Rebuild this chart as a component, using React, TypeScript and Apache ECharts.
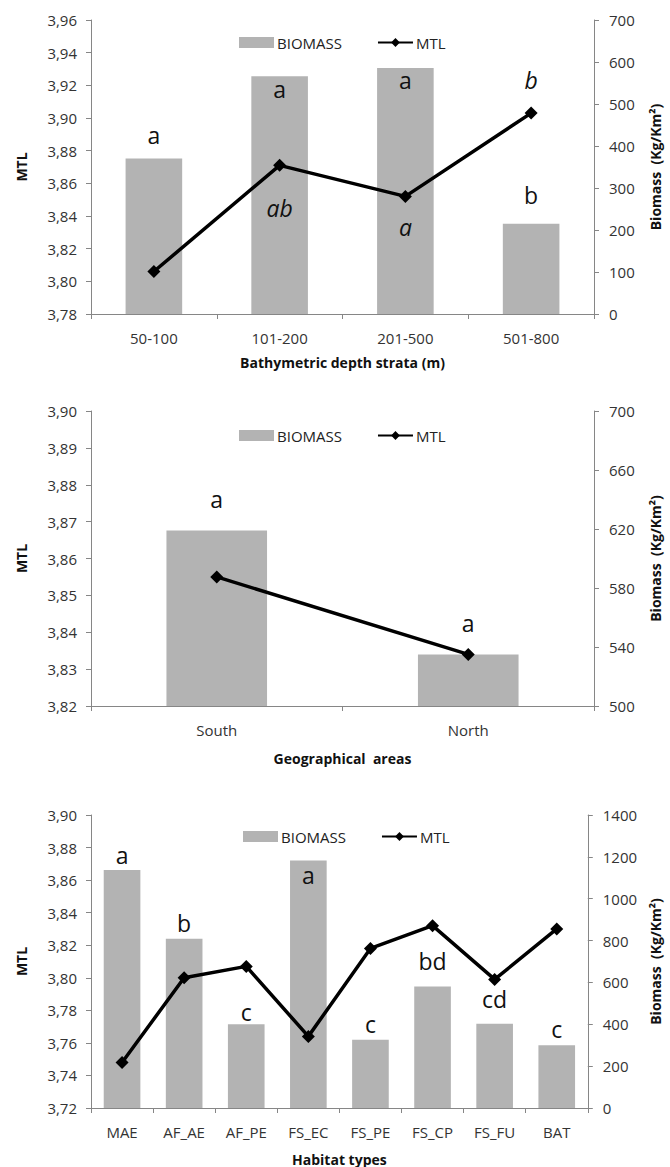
import React, { useEffect, useRef } from "react";
import * as echarts from "echarts";

// ---------- Data ----------
const depthCategories = ["50-100", "101-200", "201-500", "501-800"];
const depthBiomass = [370, 566, 586, 215];
const depthMTL = [3.806, 3.871, 3.852, 3.903];
const depthBiomassLetters = ["a", "a", "a", "b"];
const depthMTLLetters = ["", "ab", "a", "b"];

const areaCategories = ["South", "North"];
const areaBiomass = [619, 535];
const areaMTL = [3.855, 3.834];
const areaBiomassLetters = ["a", "a"];

const habitatCategories = ["MAE", "AF_AE", "AF_PE", "FS_EC", "FS_PE", "FS_CP", "FS_FU", "BAT"];
const habitatBiomass = [1137, 809, 400, 1182, 326, 580, 403, 300];
const habitatMTL = [3.748, 3.8, 3.807, 3.764, 3.818, 3.832, 3.799, 3.83];
const habitatBiomassLetters = ["a", "b", "c", "a", "c", "bd", "cd", "c"];

// axis ranges [min, max, interval]
const depthMTLAxis = [3.78, 3.96, 0.02];
const depthBiomassAxis = [0, 700, 100];
const areaMTLAxis = [3.82, 3.9, 0.01];
const areaBiomassAxis = [500, 700, 40];
const habitatMTLAxis = [3.72, 3.9, 0.02];
const habitatBiomassAxis = [0, 1400, 200];

// ---------- Label placement (styling) ----------
const depthBiomassLabelPos = ["top", "insideTop", "insideTop", "top"];
const depthBiomassLabelDist = [12, 1, 1, 17];
const depthMTLLabelPos = ["bottom", "bottom", "bottom", "top"];
const depthMTLLabelDist = [0, 25, 13, 15];
const areaBiomassLabelPos = ["top", "top"];
const areaBiomassLabelDist = [20, 20];
const habitatBiomassLabelPos = ["top", "top", "top", "insideTop", "top", "top", "top", "top"];
const habitatBiomassLabelDist = [4, 4, 1, 3, 4, 14, 13, 5];

const FONT = "'Open Sans', sans-serif";
const AXIS_COLOR = "#868686";
const LABEL_COLOR = "#333";
const BAR_COLOR = "#b3b3b3";

const fmtMTL = (decimals: number) => (v: number) => v.toFixed(decimals).replace(".", ",");
const fmtPlain = (v: number) => String(Math.round(v));

type Panel = {
  top: number;
  height: number;
  categories: string[];
  biomass: number[];
  mtl: number[];
  biomassLetters: string[];
  biomassLabelPos: string[];
  biomassLabelDist: number[];
  mtlLetters?: string[];
  mtlLabelPos?: string[];
  mtlLabelDist?: number[];
  mtlAxis: number[];
  biomassAxis: number[];
  decimals: number;
  xName: string;
  barWidth: string;
  legendTop: number;
  legendLeft: number;
  xNameGap: number;
};

const panels: Panel[] = [
  {
    top: 20,
    height: 294,
    categories: depthCategories,
    biomass: depthBiomass,
    mtl: depthMTL,
    biomassLetters: depthBiomassLetters,
    biomassLabelPos: depthBiomassLabelPos,
    biomassLabelDist: depthBiomassLabelDist,
    mtlLetters: depthMTLLetters,
    mtlLabelPos: depthMTLLabelPos,
    mtlLabelDist: depthMTLLabelDist,
    mtlAxis: depthMTLAxis,
    biomassAxis: depthBiomassAxis,
    decimals: 2,
    xName: "Bathymetric depth strata (m)",
    barWidth: "45%",
    legendTop: 30,
    legendLeft: 234,
    xNameGap: 41,
  },
  {
    top: 411,
    height: 295,
    categories: areaCategories,
    biomass: areaBiomass,
    mtl: areaMTL,
    biomassLetters: areaBiomassLetters,
    biomassLabelPos: areaBiomassLabelPos,
    biomassLabelDist: areaBiomassLabelDist,
    mtlAxis: areaMTLAxis,
    biomassAxis: areaBiomassAxis,
    decimals: 2,
    xName: "Geographical  areas",
    barWidth: "40%",
    legendTop: 423,
    legendLeft: 234,
    xNameGap: 45,
  },
  {
    top: 815,
    height: 293,
    categories: habitatCategories,
    biomass: habitatBiomass,
    mtl: habitatMTL,
    biomassLetters: habitatBiomassLetters,
    biomassLabelPos: habitatBiomassLabelPos,
    biomassLabelDist: habitatBiomassLabelDist,
    mtlAxis: habitatMTLAxis,
    biomassAxis: habitatBiomassAxis,
    decimals: 2,
    xName: "Habitat types",
    barWidth: "59%",
    legendTop: 824,
    legendLeft: 238,
    xNameGap: 44,
  },
];

function buildOption() {
  const grid: any[] = [];
  const xAxis: any[] = [];
  const yAxis: any[] = [];
  const series: any[] = [];
  const legend: any[] = [];

  panels.forEach((p, i) => {
    grid.push({ left: 91, width: 504, top: p.top, height: p.height, containLabel: false });
    xAxis.push({
      type: "category",
      gridIndex: i,
      data: p.categories,
      boundaryGap: true,
      name: p.xName,
      nameLocation: "middle",
      nameGap: p.xNameGap,
      nameTextStyle: { fontFamily: FONT, fontWeight: "bold", fontSize: 14, color: "#111" },
      axisLine: { show: true, lineStyle: { color: AXIS_COLOR, width: 1 } },
      axisTick: { show: true, length: 5, alignWithLabel: false, lineStyle: { color: AXIS_COLOR } },
      axisLabel: { fontFamily: FONT, fontSize: 15, color: LABEL_COLOR, margin: 16 },
      splitLine: { show: false },
    });
    yAxis.push({
      type: "value",
      gridIndex: i,
      position: "left",
      min: p.mtlAxis[0],
      max: p.mtlAxis[1],
      interval: p.mtlAxis[2],
      name: "MTL",
      nameLocation: "middle",
      nameGap: 63,
      nameRotate: 90,
      nameTextStyle: { fontFamily: FONT, fontWeight: "bold", fontSize: 14, color: "#111" },
      axisLine: { show: true, lineStyle: { color: AXIS_COLOR, width: 1 } },
      axisTick: { show: true, length: 5, lineStyle: { color: AXIS_COLOR } },
      axisLabel: { fontFamily: FONT, fontSize: 15, color: LABEL_COLOR, margin: 14, formatter: fmtMTL(p.decimals) },
      splitLine: { show: false },
    });
    yAxis.push({
      type: "value",
      gridIndex: i,
      position: "right",
      min: p.biomassAxis[0],
      max: p.biomassAxis[1],
      interval: p.biomassAxis[2],
      name: "Biomass  (Kg/Km²)",
      nameLocation: "middle",
      nameGap: 54,
      nameRotate: 90,
      nameTextStyle: { fontFamily: FONT, fontWeight: "bold", fontSize: 14, color: "#111" },
      axisLine: { show: true, lineStyle: { color: AXIS_COLOR, width: 1 } },
      axisTick: { show: true, length: 5, lineStyle: { color: AXIS_COLOR } },
      axisLabel: { fontFamily: FONT, fontSize: 15, color: LABEL_COLOR, margin: 15, formatter: fmtPlain },
      splitLine: { show: false },
    });

    series.push({
      name: "BIOMASS",
      type: "bar",
      xAxisIndex: i,
      yAxisIndex: 2 * i + 1,
      barWidth: p.barWidth,
      itemStyle: { color: BAR_COLOR },
      z: 2,
      data: p.biomass.map((v, k) => ({
        value: v,
        label: {
          show: true,
          formatter: p.biomassLetters[k],
          position: p.biomassLabelPos[k],
          distance: p.biomassLabelDist[k],
          fontFamily: FONT,
          fontSize: 23,
          color: "#111",
        },
      })),
    });
    series.push({
      name: "MTL",
      type: "line",
      xAxisIndex: i,
      yAxisIndex: 2 * i,
      symbol: "diamond",
      symbolSize: 13,
      lineStyle: { color: "#000", width: 3.5 },
      itemStyle: { color: "#000" },
      z: 5,
      data: p.mtl.map((v, k) => {
        const letter = p.mtlLetters ? p.mtlLetters[k] : "";
        return {
          value: v,
          label: {
            show: !!letter,
            formatter: letter,
            position: p.mtlLabelPos ? p.mtlLabelPos[k] : "top",
            distance: p.mtlLabelDist ? p.mtlLabelDist[k] : 5,
            fontFamily: FONT,
            fontStyle: "italic",
            fontSize: 23,
            color: "#111",
          },
        };
      }),
    });
    legend.push({
      top: p.legendTop,
      left: p.legendLeft,
      orient: "horizontal",
      itemWidth: 35,
      itemHeight: 11,
      itemGap: 35,
      selectedMode: false,
      textStyle: { fontFamily: FONT, fontSize: 15, color: "#222", padding: [0, 0, 0, -2] },
      data: [{ name: "BIOMASS", icon: "rect" }, { name: "MTL" }],
    });
  });

  return {
    animation: false,
    backgroundColor: "#fff",
    textStyle: { fontFamily: FONT },
    grid,
    xAxis,
    yAxis,
    series,
    legend,
  };
}

export default function App() {
  const ref = useRef<HTMLDivElement>(null);
  useEffect(() => {
    if (!ref.current) return;
    const chart = echarts.init(ref.current, undefined, { renderer: "svg" });
    chart.setOption(buildOption());
    return () => chart.dispose();
  }, []);
  return (
    <div
      ref={ref}
      style={{ position: "absolute", left: 0, top: 0, width: 670, height: 1167, background: "#fff" }}
    />
  );
}
